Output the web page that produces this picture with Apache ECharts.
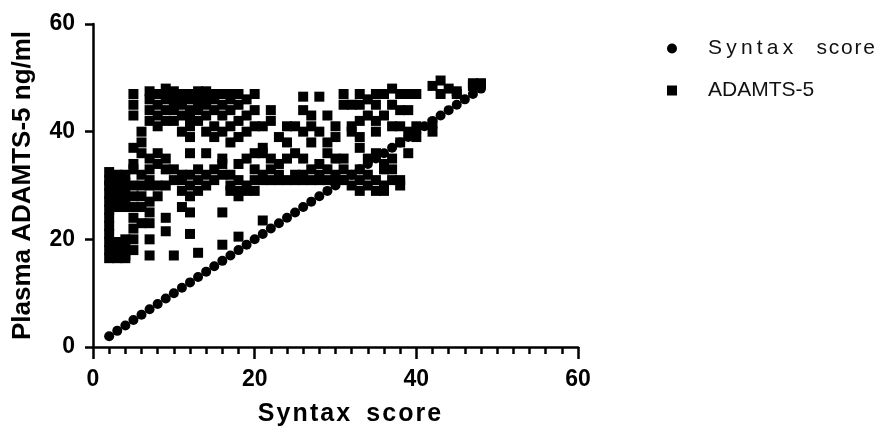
<!DOCTYPE html>
<html>
<head>
<meta charset="utf-8">
<script src="https://cdn.jsdelivr.net/npm/echarts@6/dist/echarts.min.js"></script>
<style>
  html, body { margin: 0; padding: 0; background: #fff; }
  #chart { width: 882px; height: 432px; }
</style>
</head>
<body>
<div id="chart"></div>
<script>
// Syntax score plotted against itself (the diagonal of dots)
const syntaxScores = [2, 3, 4, 5, 6, 7, 8, 9, 10, 11, 12, 13, 14, 15, 16, 17, 18, 19, 20, 21, 22, 23, 24, 25,
  26, 27, 28, 29, 30, 31, 32, 33, 34, 35, 36, 37, 38, 39, 40, 41, 42, 43, 44, 45, 46, 47, 48];

// ADAMTS-5 (ng/ml) against syntax score
const adamX = [
  2, 2, 2, 2, 2, 2, 2, 2, 2, 2, 2, 2,
  3, 3, 3, 3, 3, 3, 3, 3,
  4, 4, 4, 4, 4, 4, 4, 4, 4,
  5, 5, 5, 5, 5, 5, 5, 5, 5, 5, 5, 5, 5,
  6, 6, 6, 6, 6, 6, 6, 6,
  7, 7, 7, 7, 7, 7, 7, 7, 7, 7, 7, 7, 7,
  8, 8, 8, 8, 8, 8, 8, 8,
  9, 9, 9, 9, 9, 9, 9, 9, 9, 9,
  10, 10, 10, 10, 10, 10, 10, 10,
  11, 11, 11, 11, 11, 11, 11, 11, 11,
  12, 12, 12, 12, 12, 12, 12, 12, 12, 12, 12, 12,
  13, 13, 13, 13, 13, 13, 13, 13, 13,
  14, 14, 14, 14, 14, 14, 14, 14,
  15, 15, 15, 15, 15, 15, 15,
  16, 16, 16, 16, 16, 16, 16, 16, 16,
  17, 17, 17, 17, 17, 17, 17, 17,
  18, 18, 18, 18, 18, 18, 18, 18, 18,
  19, 19, 19, 19, 19, 19,
  20, 20, 20, 20, 20, 20, 20,
  21, 21, 21, 21, 21, 21,
  22, 22, 22, 22, 22,
  23, 23, 23, 23,
  24, 24, 24, 24,
  25, 25, 25, 25,
  26, 26, 26, 26, 26, 26,
  27, 27, 27, 27, 27,
  28, 28, 28, 28, 28,
  29, 29, 29, 29, 29,
  30, 30, 30, 30, 30,
  31, 31, 31, 31, 31,
  32, 32, 32, 32, 32,
  33, 33, 33, 33, 33, 33, 33, 33,
  34, 34, 34, 34, 34,
  35, 35, 35, 35, 35, 35, 35,
  36, 36, 36, 36, 36, 36,
  37, 37, 37, 37, 37, 37,
  38, 38, 38, 38, 38, 38,
  39, 39, 39, 39,
  40, 40, 40,
  42, 42, 42,
  43, 43,
  44,
  45, 45,
  47, 47,
  48
];
const adamY = [
  16.5, 18, 19.5, 21, 22.5, 24, 25.5, 27, 28.5, 30, 31, 32.5,
  16.5, 18, 19.5, 26, 27.5, 29, 30.5, 32,
  17, 18.5, 20, 26, 27.5, 29, 30.5, 32, 16.5,
  18, 20, 22, 24, 26, 28, 30, 33, 34, 37, 43, 45, 47,
  23, 26, 28, 30, 32, 36, 38, 40,
  17, 20, 23, 25, 27, 30, 31, 33, 35, 42, 44, 46, 47.5,
  28, 30, 34, 36, 41, 43, 45, 47,
  21.5, 24, 30, 33, 35, 42, 44, 46, 47, 48,
  17, 31, 33, 42, 44, 45, 46.5, 47.5,
  26, 29, 31, 32, 40, 43, 45, 46, 47,
  21, 25, 28, 30, 32, 36, 39, 41, 42.5, 44, 46, 47,
  17.5, 29, 31, 33, 42, 44, 45, 46.5, 47.5,
  30, 32, 36, 40, 43, 45, 46, 47.5,
  31, 33, 39, 41, 44, 46, 47,
  19, 25, 32, 34, 35, 40, 43, 45, 47,
  29, 30, 32, 38, 41, 44, 46, 47,
  20.5, 28, 29, 31, 34, 39, 42, 45, 47,
  29, 30, 35, 40, 43, 46,
  29, 31, 33, 36, 41, 44, 47,
  23.5, 31, 32, 36, 37, 41,
  31, 33, 35, 42, 44,
  31, 32, 34, 39,
  31, 35, 38, 41,
  31, 32, 36, 41,
  31, 32, 35, 40, 44, 46.5,
  31, 33, 38, 41, 43,
  31, 32, 34, 40, 46.5,
  31, 33, 36, 38, 43,
  31, 32, 35, 39, 41,
  31, 33, 35, 45, 47,
  30, 32, 40, 41, 45,
  29, 31, 33, 37, 39, 42, 45, 47,
  30, 32, 35, 43, 46,
  29, 31, 36, 40, 42, 45, 47,
  29, 30, 33, 34, 43, 47,
  31, 33, 35, 41, 45, 48,
  30, 31, 38, 41, 44, 47,
  36, 40, 44, 47,
  39, 41, 47,
  40, 41.5, 48.5,
  47, 49.5,
  48,
  47, 47.5,
  48.5, 49,
  49
];

const chart = echarts.init(document.getElementById('chart'));

const hs = '\u200A';
const ts = '\u2009';
const xTitle = ['S', 'y', 'n', 't', 'a', 'x'].join(hs) + '  ' + hs + ['s', 'c', 'o', 'r', 'e'].join(hs);
const legendSyntax = ['S', 'y', 'n', 't', 'a', 'x'].join(ts) + '    ' + ['s', 'c', 'o', 'r', 'e'].join(hs);

const axisFont = { fontFamily: 'Liberation Sans, Arial, sans-serif', fontWeight: 'bold', color: '#000' };

const option = {
  animation: false,
  backgroundColor: '#fff',
  grid: { left: 93, right: 304, top: 24, bottom: 84 },
  legend: {
    orient: 'vertical',
    left: 662,
    top: 33,
    itemWidth: 10,
    itemHeight: 10,
    itemGap: 21,
    textStyle: {
      fontFamily: 'Liberation Sans, Arial, sans-serif',
      fontSize: 21,
      color: '#111',
      padding: [0, 0, 0, 26]
    },
    data: [
      { name: 'Syntax score', icon: 'circle' },
      { name: 'ADAMTS-5', icon: 'rect' }
    ],
    formatter: (name) => (name === 'Syntax score' ? legendSyntax : name)
  },
  xAxis: {
    type: 'value',
    min: 0,
    max: 60,
    interval: 20,
    name: xTitle,
    nameLocation: 'middle',
    nameGap: 55,
    nameTextStyle: { ...axisFont, fontSize: 25, padding: [0, 0, 0, 28] },
    axisLine: { show: true, onZero: false, lineStyle: { color: '#000', width: 2.5 } },
    axisTick: { show: true, length: 12, lineStyle: { color: '#000', width: 2.5 } },
    minorTick: { show: true, splitNumber: 10, length: 7, lineStyle: { color: '#000', width: 2.5 } },
    axisLabel: { ...axisFont, fontSize: 23, margin: 21 },
    splitLine: { show: false }
  },
  yAxis: {
    type: 'value',
    min: 0,
    max: 60,
    interval: 20,
    name: 'Plasma ADAMTS-5 ng/ml',
    nameLocation: 'middle',
    nameGap: 57,
    nameTextStyle: { ...axisFont, fontSize: 26 },
    axisLine: { show: true, onZero: false, lineStyle: { color: '#000', width: 2.5 } },
    axisTick: { show: true, length: 8, lineStyle: { color: '#000', width: 2.5 } },
    axisLabel: { ...axisFont, fontSize: 23, margin: 18 },
    splitLine: { show: false }
  },
  series: [
    {
      name: 'Syntax score',
      type: 'scatter',
      symbol: 'circle',
      symbolSize: 10,
      itemStyle: { color: '#000', opacity: 1 },
      data: syntaxScores.map((s) => [s, s])
    },
    {
      name: 'ADAMTS-5',
      type: 'scatter',
      symbol: 'rect',
      symbolSize: 10,
      itemStyle: { color: '#000', opacity: 1 },
      data: adamX.map((x, i) => [x, adamY[i]])
    }
  ]
};

chart.setOption(option);
</script>
</body>
</html>
